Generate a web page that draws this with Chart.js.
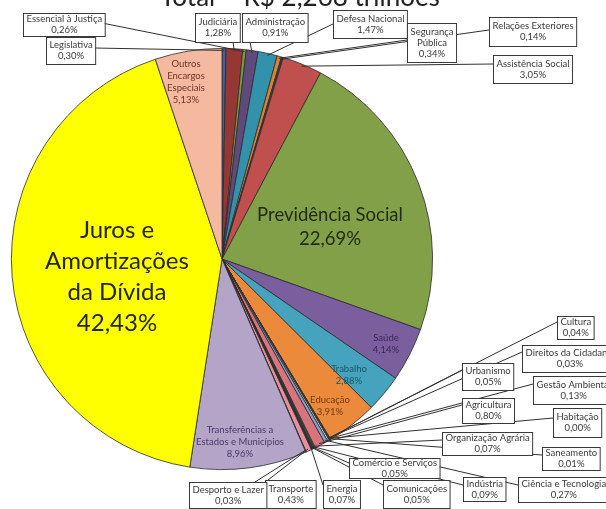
<!DOCTYPE html>
<html>
<head>
<meta charset="utf-8">
<script src="https://cdn.jsdelivr.net/npm/chart.js@4.4.0/dist/chart.umd.min.js"></script>
<style>
  html, body { margin: 0; padding: 0; background: #fff; }
  #wrap { position: relative; width: 606px; height: 509px; overflow: hidden; }
</style>
</head>
<body>
<div id="wrap"><canvas id="pieChart" width="606" height="509"></canvas></div>
<script>
// Orçamento Geral da União - gastos por função (%)
const title = "Total – R$ 2,268 trilhões";

const categories = [
  "Legislativa", "Judiciária", "Essencial à Justiça", "Administração",
  "Defesa Nacional", "Segurança Pública", "Relações Exteriores", "Assistência Social",
  "Previdência Social", "Saúde", "Trabalho", "Educação",
  "Cultura", "Direitos da Cidadania", "Urbanismo", "Habitação",
  "Saneamento", "Gestão Ambiental", "Ciência e Tecnologia", "Agricultura",
  "Organização Agrária", "Indústria", "Comércio e Serviços", "Comunicações",
  "Energia", "Transporte", "Desporto e Lazer",
  "Transferências a Estados e Municípios", "Juros e Amortizações da Dívida", "Outros Encargos Especiais"
];

const values = [
  0.30, 1.28, 0.26, 0.91,
  1.47, 0.34, 0.14, 3.05,
  22.69, 4.14, 2.88, 3.91,
  0.04, 0.03, 0.05, 0.00,
  0.01, 0.13, 0.27, 0.80,
  0.07, 0.09, 0.05, 0.05,
  0.07, 0.43, 0.03,
  8.96, 42.43, 5.13
];

const colors = [
  "#3d63a6", "#953735", "#7f9a3a", "#604a7b",
  "#3392ab", "#e0802a", "#254061", "#c0504d",
  "#82a048", "#7b5e9e", "#45a3bd", "#ec8a3c",
  "#8eb4e3", "#e6b9b8", "#d7e4bd", "#ccc1da",
  "#b7dee8", "#fcd5b5", "#7f9fce", "#d9737c",
  "#9bbb59", "#604a7b", "#31859c", "#e46c0a",
  "#1f3864", "#e8909a", "#f2c4c4",
  "#b3a4c8", "#ffff00", "#f5b9a0"
];

const fmt = v => v.toFixed(2).replace(".", ",") + "%";

function wrap(text, maxChars) {
  const words = text.split(" ");
  const lines = [];
  let cur = "";
  words.forEach(w => {
    const test = cur ? cur + " " + w : w;
    if (test.length > maxChars && cur) { lines.push(cur); cur = w; }
    else cur = test;
  });
  if (cur) lines.push(cur);
  return lines;
}

// labels inside slices: index, centre, font size, colour, wrap width
const insideLabels = [
  { i: 28, x: 117, y: 230, size: 24, lh: 31, color: "#262610", chars: 12 },
  { i: 8, x: 330, y: 215, size: 18.5, lh: 24, color: "#1f2a12", chars: 20 },
  { i: 29, x: 186, y: 64, size: 9.5, lh: 12, color: "#6b3526", chars: 9 },
  { i: 9, x: 386, y: 338, size: 9.5, lh: 12, color: "#3b2a55", chars: 9 },
  { i: 10, x: 349, y: 369, size: 9.5, lh: 12, color: "#1d5566", chars: 9 },
  { i: 11, x: 330, y: 400, size: 9.5, lh: 12, color: "#6e3a10", chars: 9 },
  { i: 27, x: 240, y: 430, size: 9.5, lh: 12, color: "#4a3a6a", chars: 20 }
];

// callout boxes: index, box left/top, height, anchor on box edge
const callouts = [
  { i: 2, x: 23, y: 13, h: 23, ax: 102, ay: 23 },
  { i: 0, x: 46, y: 37, h: 27, ax: 95, ay: 48 },
  { i: 1, x: 195, y: 13, h: 29, ax: 233, ay: 42 },
  { i: 3, x: 242, y: 13, h: 29, ax: 250, ay: 42 },
  { i: 4, x: 333, y: 10, h: 28, ax: 333, ay: 24 },
  { i: 5, x: 407, y: 23, h: 39, ax: 407, ay: 40, chars: 9 },
  { i: 6, x: 489, y: 17, h: 29, ax: 489, ay: 30 },
  { i: 7, x: 493, y: 55, h: 28, ax: 493, ay: 64 },
  { i: 12, x: 557, y: 316, h: 23, ax: 557, ay: 322 },
  { i: 13, x: 522, y: 345, h: 27, ax: 522, ay: 352 },
  { i: 14, x: 462, y: 363, h: 27, ax: 462, ay: 370 },
  { i: 17, x: 533, y: 376, h: 28, ax: 533, ay: 384 },
  { i: 19, x: 462, y: 398, h: 25, ax: 462, ay: 405 },
  { i: 15, x: 553, y: 408, h: 29, ax: 553, ay: 418 },
  { i: 20, x: 442, y: 432, h: 23, ax: 442, ay: 440 },
  { i: 16, x: 542, y: 447, h: 23, ax: 542, ay: 455 },
  { i: 21, x: 463, y: 477, h: 24, ax: 463, ay: 485 },
  { i: 18, x: 518, y: 477, h: 25, ax: 518, ay: 485 },
  { i: 22, x: 349, y: 458, h: 20, ax: 349, ay: 463 },
  { i: 23, x: 383, y: 480, h: 28, ax: 383, ay: 485 },
  { i: 24, x: 323, y: 480, h: 28, ax: 323, ay: 485 },
  { i: 25, x: 265, y: 480, h: 28, ax: 268, ay: 480 },
  { i: 26, x: 189, y: 482, h: 26, ax: 255, ay: 482 }
];

const FONT = "Lato, 'Open Sans', sans-serif";

const labelPlugin = {
  id: "labelPlugin",
  afterDatasetsDraw(chart) {
    const ctx = chart.ctx;
    const arcs = chart.getDatasetMeta(0).data;
    ctx.save();

    // title (cut off at the top edge)
    ctx.fillStyle = "#222";
    ctx.font = "26px " + FONT;
    ctx.textAlign = "center";
    ctx.textBaseline = "alphabetic";
    ctx.fillText(title, 300, 6);

    // inside labels
    insideLabels.forEach(l => {
      ctx.font = l.size + "px " + FONT;
      ctx.fillStyle = l.color;
      ctx.textAlign = "center";
      ctx.textBaseline = "middle";
      const lines = wrap(categories[l.i], l.chars).concat([fmt(values[l.i])]);
      lines.forEach((t, k) => ctx.fillText(t, l.x, l.y + k * l.lh));
    });

    // leader lines
    ctx.strokeStyle = "#303030";
    ctx.lineWidth = 1;
    callouts.forEach(c => {
      const p = arcs[c.i].getProps(["x", "y", "startAngle", "endAngle", "outerRadius"], true);
      const mid = (p.startAngle + p.endAngle) / 2;
      const px = p.x + Math.cos(mid) * (p.outerRadius - 2);
      const py = p.y + Math.sin(mid) * (p.outerRadius - 2);
      ctx.beginPath();
      ctx.moveTo(px, py);
      ctx.lineTo(c.ax, c.ay);
      ctx.stroke();
    });

    // callout boxes
    ctx.font = "9.5px " + FONT;
    callouts.forEach(c => {
      const lines = wrap(categories[c.i], c.chars || 30).concat([fmt(values[c.i])]);
      const w = Math.max(...lines.map(t => ctx.measureText(t).width)) + 6;
      ctx.fillStyle = "#fff";
      ctx.fillRect(c.x, c.y, w, c.h);
      ctx.strokeStyle = "#3a3a3a";
      ctx.strokeRect(c.x + 0.5, c.y + 0.5, w, c.h);
      ctx.fillStyle = "#3a3a3a";
      ctx.textAlign = "center";
      ctx.textBaseline = "middle";
      const lh = 11;
      const top = c.y + c.h / 2 - (lines.length - 1) * lh / 2;
      lines.forEach((t, k) => ctx.fillText(t, c.x + w / 2 + 0.5, top + k * lh));
    });

    ctx.restore();
  }
};

new Chart(document.getElementById("pieChart"), {
  type: "pie",
  data: {
    labels: categories,
    datasets: [{
      data: values,
      backgroundColor: colors,
      borderColor: "#2b2b2b",
      borderWidth: 0.8,
      hoverOffset: 0
    }]
  },
  options: {
    responsive: false,
    animation: false,
    events: [],
    layout: { padding: { left: 11, right: 173, top: 48, bottom: 39 } },
    plugins: {
      legend: { display: false },
      tooltip: { enabled: false },
      title: { display: false }
    }
  },
  plugins: [labelPlugin]
});
</script>
</body>
</html>
